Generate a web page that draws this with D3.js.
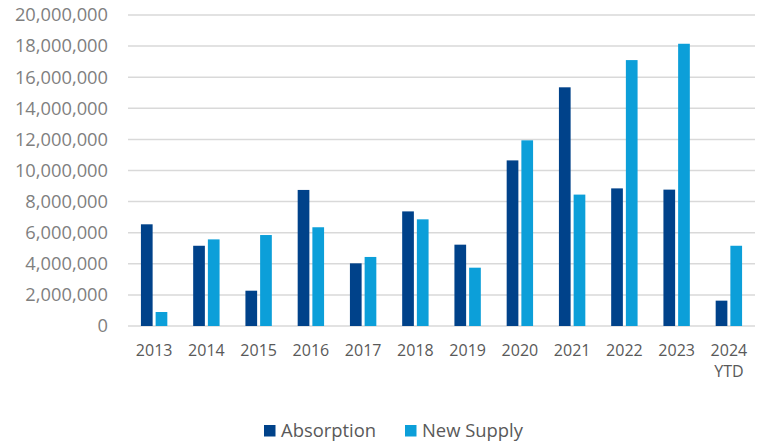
<!DOCTYPE html>
<html>
<head>
<meta charset="utf-8">
<script src="https://cdn.jsdelivr.net/npm/d3@7"></script>
<style>
  html, body { margin: 0; padding: 0; background: #ffffff; }
  svg { display: block; font-family: "Open Sans", sans-serif; }
</style>
</head>
<body>
<svg id="chart"></svg>
<script>
// Chart data
const years = ["2013", "2014", "2015", "2016", "2017", "2018", "2019", "2020", "2021", "2022", "2023", "2024 YTD"];
const absorption = [6540000, 5160000, 2270000, 8750000, 4030000, 7370000, 5230000, 10650000, 15350000, 8850000, 8770000, 1630000];
const newSupply  = [900000, 5570000, 5850000, 6350000, 4440000, 6860000, 3750000, 11940000, 8450000, 17100000, 18150000, 5160000];
const yTicks = [0, 2000000, 4000000, 6000000, 8000000, 10000000, 12000000, 14000000, 16000000, 18000000, 20000000];
const seriesNames = ["Absorption", "New Supply"];

const palette = {
  "Absorption": "#00428a",
  "New Supply": "#0c9fd9",
  grid: "#d9d9d9",
  tick: "#7f7f7f",
  label: "#595959"
};

const W = 764, H = 442;
const margin = { top: 15, right: 9, bottom: 116, left: 128 };
const width  = W - margin.left - margin.right;
const height = H - margin.top - margin.bottom;

const svg = d3.select("#chart")
  .attr("width", W)
  .attr("height", H);

const g = svg.append("g")
  .attr("transform", `translate(${margin.left},${margin.top})`);

const rows = years.map((yr, i) => ({
  year: yr,
  values: [
    { key: "Absorption", value: absorption[i] },
    { key: "New Supply", value: newSupply[i] }
  ]
}));

const x0 = d3.scaleBand()
  .domain(years)
  .range([0, width])
  .padding(0);

const groupW = 26.4;
const x1 = d3.scaleBand()
  .domain(seriesNames)
  .range([(x0.bandwidth() - groupW) / 2, (x0.bandwidth() + groupW) / 2])
  .paddingInner(0.204);

const y = d3.scaleLinear()
  .domain([0, 20000000])
  .range([height, 0]);

// gridlines
g.selectAll(".grid")
  .data(yTicks)
  .join("line")
    .attr("class", "grid")
    .attr("x1", 0)
    .attr("x2", width)
    .attr("y1", d => y(d))
    .attr("y2", d => y(d))
    .attr("stroke", palette.grid)
    .attr("stroke-width", 1.5);

// y axis labels
const yAxis = g.append("g")
  .call(d3.axisLeft(y).tickValues(yTicks).tickFormat(d3.format(",d")).tickSize(0).tickPadding(20));
yAxis.select(".domain").remove();
yAxis.attr("font-family", null).attr("font-size", null);
yAxis.selectAll("text")
  .attr("fill", palette.tick)
  .style("font-size", "18.3px");

// bars
const groups = g.selectAll(".year")
  .data(rows)
  .join("g")
    .attr("class", "year")
    .attr("transform", d => `translate(${x0(d.year)},0)`);

groups.selectAll("rect")
  .data(d => d.values)
  .join("rect")
    .attr("x", d => x1(d.key))
    .attr("width", x1.bandwidth())
    .attr("y", d => y(d.value))
    .attr("height", d => y(0) - y(d.value))
    .attr("fill", d => palette[d.key]);

// x axis labels
const xAxis = g.append("g")
  .attr("transform", `translate(0,${height})`)
  .call(d3.axisBottom(x0).tickSize(0).tickPadding(0).tickFormat(() => ""));
xAxis.select(".domain").remove();
xAxis.attr("font-family", null).attr("font-size", null);
xAxis.selectAll(".tick").each(function(d) {
  const t = d3.select(this).append("text")
    .attr("text-anchor", "middle")
    .attr("fill", palette.label)
    .style("font-size", "16px");
  d.split(" ").forEach((part, i) => {
    t.append("tspan")
      .attr("x", 0)
      .attr("y", 30 + i * 21)
      .text(part);
  });
});

// legend
const legend = svg.append("g")
  .attr("transform", `translate(264,425)`);
const legendX = [0, 141];
seriesNames.forEach((name, i) => {
  const item = legend.append("g").attr("transform", `translate(${legendX[i]},0)`);
  item.append("rect")
    .attr("width", 11.5)
    .attr("height", 11.5)
    .attr("fill", palette[name]);
  item.append("text")
    .attr("x", 17)
    .attr("y", 11.8)
    .attr("fill", palette.label)
    .style("font-size", "18.4px")
    .text(name);
});
</script>
</body>
</html>
